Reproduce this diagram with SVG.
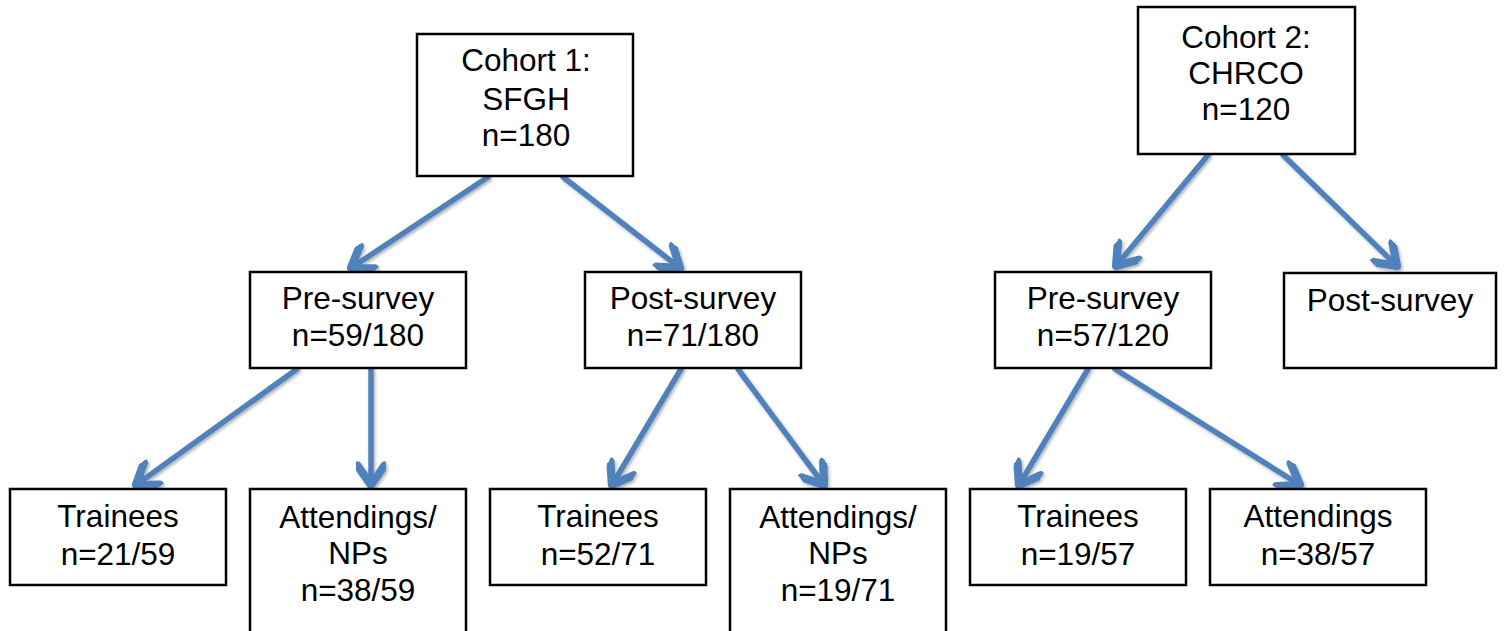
<svg xmlns="http://www.w3.org/2000/svg" width="1504" height="631" viewBox="0 0 1504 631">
<style>
.box{fill:#fff;stroke:#000;stroke-width:2.5}
.t{font-family:"Liberation Sans",Arial,sans-serif;font-size:31.5px;fill:#000;text-anchor:middle}
.c{fill:none;stroke:#4F81BD;stroke-width:5.5;stroke-linecap:round;stroke-linejoin:round}
</style>
<defs>
<marker id="ah" markerUnits="userSpaceOnUse" markerWidth="30" markerHeight="30" refX="16" refY="10" orient="auto" viewBox="0 0 20 20">
<path d="M3,1 L16,10 L3,19" fill="none" stroke="#4F81BD" stroke-width="5.5" stroke-linecap="round" stroke-linejoin="round"/>
</marker>
<filter id="sh" x="-10%" y="-10%" width="130%" height="130%">
<feDropShadow dx="1.5" dy="2" stdDeviation="1.5" flood-color="#000" flood-opacity="0.3"/>
</filter>
</defs>
<g id="connectors" filter="url(#sh)">
<line class="c" x1="488" y1="177" x2="351" y2="268" marker-end="url(#ah)"/>
<line class="c" x1="563" y1="177" x2="680" y2="268" marker-end="url(#ah)"/>
<line class="c" x1="1208" y1="155" x2="1116" y2="266" marker-end="url(#ah)"/>
<line class="c" x1="1283" y1="155" x2="1397" y2="266" marker-end="url(#ah)"/>
<line class="c" x1="297" y1="369" x2="136" y2="485" marker-end="url(#ah)"/>
<line class="c" x1="371" y1="369" x2="371" y2="485" marker-end="url(#ah)"/>
<line class="c" x1="681" y1="369" x2="612" y2="485" marker-end="url(#ah)"/>
<line class="c" x1="738" y1="369" x2="824" y2="485" marker-end="url(#ah)"/>
<line class="c" x1="1088" y1="369" x2="1019" y2="485" marker-end="url(#ah)"/>
<line class="c" x1="1115" y1="369" x2="1300" y2="485" marker-end="url(#ah)"/>
</g>
<g id="cohort1"><rect class="box" x="417" y="34" width="216" height="142"/><text class="t" x="526" y="71">Cohort 1:</text><text class="t" x="526" y="110">SFGH</text><text class="t" x="526" y="146">n=180</text></g>
<g id="cohort2"><rect class="box" x="1138" y="7" width="217" height="147"/><text class="t" x="1246" y="48">Cohort 2:</text><text class="t" x="1246" y="84">CHRCO</text><text class="t" x="1246" y="120">n=120</text></g>
<g id="pre1"><rect class="box" x="250" y="272" width="216" height="96"/><text class="t" x="358" y="309">Pre-survey</text><text class="t" x="358" y="346">n=59/180</text></g>
<g id="post1"><rect class="box" x="585" y="272" width="216" height="96"/><text class="t" x="693" y="309">Post-survey</text><text class="t" x="693" y="346">n=71/180</text></g>
<g id="pre2"><rect class="box" x="995" y="272" width="216" height="96"/><text class="t" x="1103" y="309">Pre-survey</text><text class="t" x="1103" y="346">n=57/120</text></g>
<g id="post2"><rect class="box" x="1284" y="273" width="212" height="95"/><text class="t" x="1390" y="311">Post-survey</text></g>
<g id="trainees1"><rect class="box" x="10" y="489" width="216" height="96"/><text class="t" x="118" y="527">Trainees</text><text class="t" x="118" y="565">n=21/59</text></g>
<g id="attendings1"><rect class="box" x="250" y="489" width="216" height="150"/><text class="t" x="358" y="528">Attendings/</text><text class="t" x="358" y="564">NPs</text><text class="t" x="358" y="601">n=38/59</text></g>
<g id="trainees2"><rect class="box" x="490" y="489" width="216" height="96"/><text class="t" x="598" y="527">Trainees</text><text class="t" x="598" y="565">n=52/71</text></g>
<g id="attendings2"><rect class="box" x="730" y="489" width="216" height="150"/><text class="t" x="838" y="528">Attendings/</text><text class="t" x="838" y="564">NPs</text><text class="t" x="838" y="601">n=19/71</text></g>
<g id="trainees3"><rect class="box" x="970" y="489" width="216" height="96"/><text class="t" x="1078" y="527">Trainees</text><text class="t" x="1078" y="565">n=19/57</text></g>
<g id="attendings3"><rect class="box" x="1210" y="489" width="216" height="96"/><text class="t" x="1318" y="527">Attendings</text><text class="t" x="1318" y="565">n=38/57</text></g>
</svg>
